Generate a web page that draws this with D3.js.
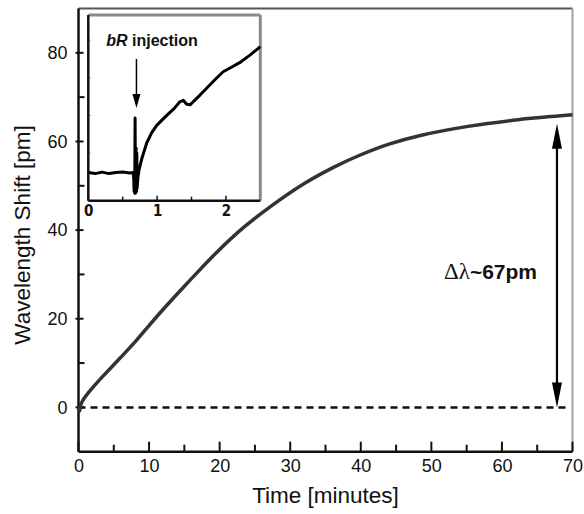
<!DOCTYPE html>
<html lang="en">
<head>
  <meta charset="utf-8" />
  <title>Wavelength shift</title>
  <style>
    body {
      margin: 0;
      background: #fff;
      font-family: "Liberation Sans", Arial, sans-serif;
    }
    path.domain { display: none; }
  </style>
</head>
<body>
  <div id="graphic"></div>

  <script src="https://cdnjs.cloudflare.com/ajax/libs/d3/7.8.5/d3.min.js"></script>
  <script>
    // main trace: time [min], shift [pm]
    var mainTime  = [0, 0.15, 0.3, 0.7, 1.5, 3.5, 6, 8.3, 11.6, 15.4, 19.6, 23.4, 27.2, 32, 36.2, 40, 44, 48.6, 55.2, 62.3, 70];
    var mainShift = [0, -0.8, 0.5, 1.8, 3.5, 7.1, 11.3, 15.3, 21.4, 28.0, 35.0, 40.6, 45.3, 50.5, 54.2, 57.0, 59.4, 61.4, 63.4, 64.9, 66.0];

    // inset trace around injection (arbitrary offset)
    var insetTime  = [0, 0.1, 0.2, 0.3, 0.4, 0.5, 0.6, 0.65, 0.66, 0.665, 0.675, 0.68, 0.685, 0.69, 0.695, 0.70, 0.705, 0.71, 0.72, 0.74, 0.776, 0.849, 0.92, 0.994, 1.14, 1.25, 1.33, 1.38, 1.43, 1.48, 1.53, 1.62, 1.72, 1.84, 1.96, 2.08, 2.2, 2.35, 2.5];
    var insetShift = [0.1, -0.1, 0.2, -0.1, 0.1, 0.2, 0, 0.1, -1, -3.5, -4, 11, -4, -3.5, 5, -3.7, 4, -3, -1, 0.8, 2.8, 6.0, 8, 9.5, 11.5, 12.9, 14.2, 14.5, 13.7, 13.6, 14.3, 15.5, 16.9, 18.6, 20.2, 21.1, 22.0, 23.5, 25.2];

    var xMajorTicks = [0, 10, 20, 30, 40, 50, 60, 70];
    var xMinorTicks = [5, 15, 25, 35, 45, 55, 65];
    var yMajorTicks = [0, 20, 40, 60, 80];
    var yMinorTicks = [10, 30, 50, 70];
    var insetXMajor = [0, 1, 2];
    var insetXMinor = [0.5, 1.5];
    var insetYTicks = [4, 11.5, 19, 26.5];

    var injectionTime = 0.7;
    var deltaTime = 67.8;
    var deltaTop = 64;
    var deltaLabel = "~67pm";

    var W = 584, H = 514;
    var svg = d3.select('#graphic').append('svg')
      .attr('width', W).attr('height', H);

    var x = d3.scaleLinear().domain([0, 70]).range([78.5, 572.5]);
    var y = d3.scaleLinear().domain([-10, 90]).range([451.7, 8.5]);

    // frame (top/right grey)
    svg.append('line').attr('x1', x(0)).attr('x2', x(70)).attr('y1', y(90)).attr('y2', y(90))
      .attr('stroke', '#555').attr('stroke-width', 2);
    svg.append('line').attr('x1', x(70)).attr('x2', x(70)).attr('y1', y(90)).attr('y2', y(-10))
      .attr('stroke', '#a0a0a0').attr('stroke-width', 2);

    // x axis labels
    svg.append('g').attr('transform', 'translate(0,' + y(-10) + ')')
      .call(d3.axisBottom(x).tickValues(xMajorTicks).tickSize(0).tickPadding(8))
      .selectAll('text').attr('font-size', 18).attr('font-family', '"Liberation Sans", Arial, sans-serif').attr('fill', '#111');

    // x ticks (inside)
    svg.selectAll('line.xmaj').data(xMajorTicks).enter().append('line')
      .attr('x1', function(d) { return x(d); }).attr('x2', function(d) { return x(d); })
      .attr('y1', y(-10)).attr('y2', y(-10) - 10)
      .attr('stroke', '#111').attr('stroke-width', 2);
    svg.selectAll('line.xmin').data(xMinorTicks).enter().append('line')
      .attr('x1', function(d) { return x(d); }).attr('x2', function(d) { return x(d); })
      .attr('y1', y(-10)).attr('y2', y(-10) - 7)
      .attr('stroke', '#111').attr('stroke-width', 2);

    // y axis labels
    svg.append('g').attr('transform', 'translate(' + x(0) + ',0)')
      .call(d3.axisLeft(y).tickValues(yMajorTicks).tickSize(0).tickPadding(11))
      .selectAll('text').attr('font-size', 18).attr('font-family', '"Liberation Sans", Arial, sans-serif').attr('fill', '#111');

    // y ticks
    svg.selectAll('line.ymaj').data(yMajorTicks).enter().append('line')
      .attr('x1', x(0) - 3).attr('x2', x(0) + 5)
      .attr('y1', function(d) { return y(d); }).attr('y2', function(d) { return y(d); })
      .attr('stroke', '#111').attr('stroke-width', 2);
    svg.selectAll('line.ymin').data(yMinorTicks).enter().append('line')
      .attr('x1', x(0)).attr('x2', x(0) + 6)
      .attr('y1', function(d) { return y(d); }).attr('y2', function(d) { return y(d); })
      .attr('stroke', '#111').attr('stroke-width', 2);

    // axis lines
    svg.append('line').attr('x1', x(0)).attr('x2', x(70)).attr('y1', y(-10)).attr('y2', y(-10))
      .attr('stroke', '#111').attr('stroke-width', 2.5);
    svg.append('line').attr('x1', x(0)).attr('x2', x(0)).attr('y1', y(90)).attr('y2', y(-10))
      .attr('stroke', '#111').attr('stroke-width', 2.5);

    // axis titles
    svg.append('text').attr('x', (x(0) + x(70)) / 2).attr('y', 503)
      .attr('text-anchor', 'middle').attr('font-size', 22.5).attr('fill', '#111')
      .text('Time [minutes]');
    svg.append('text').attr('transform', 'translate(30,' + 235 + ') rotate(-90)')
      .attr('text-anchor', 'middle').attr('font-size', 22.5).attr('fill', '#111')
      .text('Wavelength Shift [pm]');

    // zero baseline
    svg.append('line').attr('x1', x(0)).attr('x2', x(69.4)).attr('y1', y(0)).attr('y2', y(0))
      .attr('stroke', '#111').attr('stroke-width', 2.5).attr('stroke-dasharray', '7,5');

    // main trace
    var mainData = mainTime.map(function(t, i) { return [t, mainShift[i]]; });
    svg.append('path').datum(mainData)
      .attr('d', d3.line().x(function(d) { return x(d[0]); }).y(function(d) { return y(d[1]); }).curve(d3.curveCatmullRom))
      .attr('fill', 'none').attr('stroke', '#333').attr('stroke-width', 3.5);

    // delta arrow
    var ax = x(deltaTime);
    svg.append('line').attr('x1', ax).attr('x2', ax).attr('y1', y(0) - 20).attr('y2', y(deltaTop) + 20)
      .attr('stroke', '#000').attr('stroke-width', 2.2);
    svg.append('path')
      .attr('d', 'M' + ax + ',' + y(deltaTop) + 'L' + (ax - 5) + ',' + (y(deltaTop) + 25) + 'L' + (ax + 5) + ',' + (y(deltaTop) + 25) + 'Z')
      .attr('fill', '#000');
    svg.append('path')
      .attr('d', 'M' + ax + ',' + y(0) + 'L' + (ax - 5) + ',' + (y(0) - 25) + 'L' + (ax + 5) + ',' + (y(0) - 25) + 'Z')
      .attr('fill', '#000');

    var lbl = svg.append('text').attr('x', 537).attr('y', 279).attr('text-anchor', 'end')
      .attr('font-size', 21).attr('fill', '#111');
    lbl.append('tspan').attr('font-family', '"Liberation Serif", "Times New Roman", serif').attr('font-size', 23).text('\u0394\u03bb');
    lbl.append('tspan').attr('font-weight', 'bold').text(deltaLabel);

    // ---- inset ----
    var ix = d3.scaleLinear().domain([0, 2.5]).range([88.3, 260.3]);
    var iy = d3.scaleLinear().domain([-5.5, 31.5]).range([200.7, 15]);

    svg.append('rect').attr('x', ix(0)).attr('y', iy(31.5)).attr('width', ix(2.5) - ix(0)).attr('height', iy(-5.5) - iy(31.5))
      .attr('fill', '#fff');
    svg.append('line').attr('x1', ix(0)).attr('x2', ix(2.5)).attr('y1', iy(31.5)).attr('y2', iy(31.5))
      .attr('stroke', '#8a8a8a').attr('stroke-width', 3);
    svg.append('line').attr('x1', ix(2.5)).attr('x2', ix(2.5)).attr('y1', iy(31.5)).attr('y2', iy(-5.5))
      .attr('stroke', '#8a8a8a').attr('stroke-width', 3);

    svg.append('g').attr('transform', 'translate(0,' + iy(-5.5) + ')')
      .call(d3.axisBottom(ix).tickValues(insetXMajor).tickSize(0).tickPadding(5).tickFormat(d3.format('d')))
      .selectAll('text').attr('font-size', 15).attr('font-weight', 'bold')
        .attr('font-family', '"Liberation Sans Narrow", "DejaVu Sans Condensed", sans-serif').attr('fill', '#111');

    svg.selectAll('line.ixt').data(insetXMajor.concat(insetXMinor)).enter().append('line')
      .attr('x1', function(d) { return ix(d); }).attr('x2', function(d) { return ix(d); })
      .attr('y1', iy(-5.5)).attr('y2', function(d) { return iy(-5.5) - (d % 1 === 0 ? 5 : 4); })
      .attr('stroke', '#111').attr('stroke-width', 1.5);
    svg.selectAll('line.iyt').data(insetYTicks).enter().append('line')
      .attr('x1', ix(0)).attr('x2', ix(0) + 3)
      .attr('y1', function(d) { return iy(d); }).attr('y2', function(d) { return iy(d); })
      .attr('stroke', '#bbb').attr('stroke-width', 1);

    svg.append('line').attr('x1', ix(0)).attr('x2', ix(2.5)).attr('y1', iy(-5.5)).attr('y2', iy(-5.5))
      .attr('stroke', '#111').attr('stroke-width', 2.5);
    svg.append('line').attr('x1', ix(0)).attr('x2', ix(0)).attr('y1', iy(31.5)).attr('y2', iy(-5.5))
      .attr('stroke', '#111').attr('stroke-width', 2.5);

    var insetData = insetTime.map(function(t, i) { return [t, insetShift[i]]; });
    svg.append('path').datum(insetData)
      .attr('d', d3.line().x(function(d) { return ix(d[0]); }).y(function(d) { return iy(d[1]); }))
      .attr('fill', 'none').attr('stroke', '#000').attr('stroke-width', 3).attr('stroke-linejoin', 'round');

    // injection arrow
    var jx = ix(injectionTime);
    svg.append('line').attr('x1', jx).attr('x2', jx).attr('y1', 59).attr('y2', 96)
      .attr('stroke', '#000').attr('stroke-width', 1.5);
    svg.append('path')
      .attr('d', 'M' + jx + ',108L' + (jx - 4) + ',94L' + (jx + 4) + ',94Z')
      .attr('fill', '#000');

    var inj = svg.append('text').attr('x', 152).attr('y', 46).attr('text-anchor', 'middle')
      .attr('font-size', 16).attr('font-weight', 'bold').attr('fill', '#111');
    inj.append('tspan').attr('font-style', 'italic').text('bR');
    inj.append('tspan').text(' injection');
  </script>
</body>
</html>
